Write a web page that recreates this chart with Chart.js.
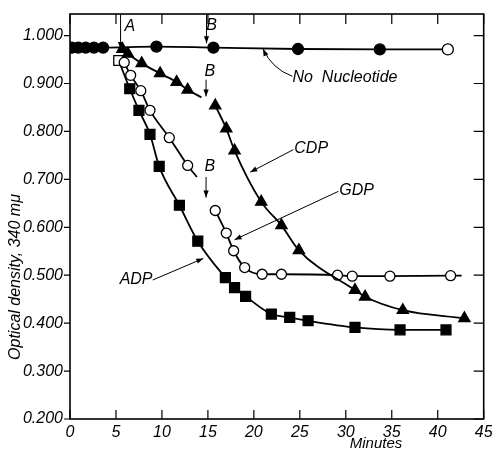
<!DOCTYPE html>
<html>
<head>
<meta charset="utf-8">
<script src="https://cdn.jsdelivr.net/npm/chart.js@4"></script>
<style>
  html, body { margin: 0; padding: 0; background: #fff; }
  #wrap { width: 492px; height: 451px; }
</style>
</head>
<body>
<div id="wrap"><canvas id="chart"></canvas></div>
<script>
// values (minutes / optical density)
const noneMin = [0.2, 0.9, 1.7, 2.6, 3.6, 9.4, 15.6, 24.8, 33.7, 41.1];
const noneOD  = [0.975, 0.975, 0.975, 0.975, 0.975, 0.977, 0.975, 0.972, 0.971, 0.971];

// the curve before each B arrow runs on a little past its last marker
const cdpMin = [5.7, 6.3, 7.8, 9.8, 11.6, 12.8, 14.3, 15.0, 15.8, 17.0, 17.9, 20.8, 23.0, 24.9, 31.0, 32.1, 36.2, 42.9];
const cdpOD  = [0.972, 0.962, 0.942, 0.921, 0.903, 0.887, 0.871, null, 0.854, 0.806, 0.760, 0.653, 0.604, 0.552, 0.469, 0.455, 0.427, 0.410];
const cdpLineEnd = [6];

const gdpMin = [5.9, 6.6, 7.7, 8.7, 10.8, 12.8, 13.8, 14.8, 15.8, 17.0, 17.8, 19.0, 20.9, 23.0, 29.1, 30.7, 34.8, 41.4, 42.6];
const gdpOD  = [0.944, 0.917, 0.885, 0.844, 0.787, 0.729, 0.705, null, 0.635, 0.588, 0.551, 0.516, 0.502, 0.502, 0.500, 0.498, 0.498, 0.499, 0.499];
const gdpLineEnd = [6, 18];

const adpMin = [5.3, 6.5, 7.5, 8.7, 9.7, 11.9, 13.9, 16.9, 17.9, 19.1, 21.9, 23.9, 25.9, 31.0, 35.9, 40.9];
const adpOD  = [0.948, 0.889, 0.844, 0.794, 0.727, 0.646, 0.571, 0.495, 0.474, 0.456, 0.419, 0.412, 0.405, 0.391, 0.386, 0.386];

const xTicks = [0, 5, 10, 15, 20, 25, 30, 35, 40, 45];
const yTicks = [0.2, 0.3, 0.4, 0.5, 0.6, 0.7, 0.8, 0.9, 1.0];

// labels and pointer arrows, in data units
const notes = [
  {text: 'A', x: 6.5, y: 1.019},
  {text: 'B', x: 15.4, y: 1.021},
  {text: 'B', x: 15.2, y: 0.925},
  {text: 'B', x: 15.2, y: 0.727},
  {text: 'No  Nucleotide', x: 24.2, y: 0.912, left: true},
  {text: 'CDP', x: 24.4, y: 0.764, left: true},
  {text: 'GDP', x: 29.3, y: 0.677, left: true},
  {text: 'ADP', x: 5.4, y: 0.490, left: true}
];
const arrows = [
  {from: [5.5, 1.044], to: [5.5, 0.972]},
  {from: [14.85, 1.044], to: [14.85, 0.984]},
  {from: [14.8, 0.908], to: [14.8, 0.873]},
  {from: [14.8, 0.705], to: [14.8, 0.662]},
  {from: [24.2, 0.915], to: [21.0, 0.972], bend: [22.0, 0.93]},
  {from: [24.3, 0.762], to: [19.6, 0.715]},
  {from: [29.2, 0.675], to: [17.9, 0.574]},
  {from: [9.0, 0.490], to: [14.5, 0.535]}
];

const FONT = '"Liberation Sans", Arial, sans-serif';

function pts(xs, ys) {
  return xs.map((x, i) => ({x: x, y: ys[i]}));
}

function radius(r, ends) {
  return c => ends.includes(c.dataIndex) ? 0 : r;
}

function head(ctx, x0, y0, x1, y1) {
  const a = Math.atan2(y1 - y0, x1 - x0);
  const L = 7, W = 2.6;
  ctx.beginPath();
  ctx.moveTo(x1, y1);
  ctx.lineTo(x1 - L * Math.cos(a) + W * Math.sin(a), y1 - L * Math.sin(a) - W * Math.cos(a));
  ctx.lineTo(x1 - L * Math.cos(a) - W * Math.sin(a), y1 - L * Math.sin(a) + W * Math.cos(a));
  ctx.closePath();
  ctx.fill();
}

const frame = {
  id: 'frame',
  beforeDatasetsDraw(chart) {
    const {ctx, chartArea: a, scales: {x, y}} = chart;
    ctx.save();
    ctx.strokeStyle = '#000';
    ctx.lineWidth = 1.6;
    ctx.strokeRect(a.left, a.top, a.right - a.left, a.bottom - a.top);
    ctx.lineWidth = 1.2;
    ctx.beginPath();
    xTicks.forEach(v => {
      const px = x.getPixelForValue(v);
      ctx.moveTo(px, a.bottom); ctx.lineTo(px, a.bottom - 9);
      ctx.moveTo(px, a.top); ctx.lineTo(px, a.top + 10);
    });
    yTicks.forEach(v => {
      const py = y.getPixelForValue(v);
      ctx.moveTo(a.left - 6, py); ctx.lineTo(a.left, py);
      ctx.moveTo(a.right, py); ctx.lineTo(a.right - 10, py);
    });
    ctx.stroke();
    ctx.restore();
  },
  afterDatasetsDraw(chart) {
    const {ctx, scales: {x, y}} = chart;
    ctx.save();
    ctx.strokeStyle = '#000';
    ctx.fillStyle = '#000';
    ctx.lineWidth = 1;
    arrows.forEach(ar => {
      const x0 = x.getPixelForValue(ar.from[0]), y0 = y.getPixelForValue(ar.from[1]);
      const x1 = x.getPixelForValue(ar.to[0]), y1 = y.getPixelForValue(ar.to[1]);
      ctx.beginPath();
      ctx.moveTo(x0, y0);
      if (ar.bend) {
        const bx = x.getPixelForValue(ar.bend[0]), by = y.getPixelForValue(ar.bend[1]);
        ctx.quadraticCurveTo(bx, by, x1, y1);
        ctx.stroke();
        head(ctx, bx, by, x1, y1);
      } else {
        ctx.lineTo(x1, y1);
        ctx.stroke();
        head(ctx, x0, y0, x1, y1);
      }
    });
    ctx.font = 'italic 16px ' + FONT;
    ctx.textBaseline = 'middle';
    notes.forEach(n => {
      ctx.textAlign = n.left ? 'left' : 'center';
      ctx.fillText(n.text, x.getPixelForValue(n.x), y.getPixelForValue(n.y));
    });
    // axis titles
    ctx.textAlign = 'center';
    ctx.font = 'italic 15px ' + FONT;
    ctx.fillText('Minutes', 376, 444);
    ctx.translate(16, 277);
    ctx.rotate(-Math.PI / 2);
    ctx.font = 'italic 16px ' + FONT;
    ctx.fillText('Optical density, 340 m\u03bc', 0, 0);
    ctx.restore();
  }
};

const base = {
  borderColor: '#000',
  borderWidth: 1.8,
  pointBorderColor: '#000',
  pointBorderWidth: 1.3,
  cubicInterpolationMode: 'monotone',
  spanGaps: false,
  fill: false
};

new Chart(document.getElementById('chart'), {
  type: 'line',
  data: {
    datasets: [
      Object.assign({}, base, {
        label: 'No Nucleotide',
        data: pts(noneMin, noneOD),
        pointStyle: 'circle',
        pointRadius: 5.5,
        pointBackgroundColor: noneMin.map((v, i) => i === noneMin.length - 1 ? '#fff' : '#000')
      }),
      Object.assign({}, base, {
        label: 'CDP',
        data: pts(cdpMin, cdpOD),
        pointStyle: 'triangle',
        pointRadius: radius(6.5, cdpLineEnd),
        pointBackgroundColor: '#000'
      }),
      Object.assign({}, base, {
        label: 'GDP',
        data: pts(gdpMin, gdpOD),
        pointStyle: 'circle',
        pointRadius: radius(5, gdpLineEnd),
        pointBackgroundColor: '#fff'
      }),
      Object.assign({}, base, {
        label: 'ADP',
        data: pts(adpMin, adpOD),
        pointStyle: 'rect',
        pointRadius: 7,
        pointBackgroundColor: adpMin.map((v, i) => i === 0 ? '#fff' : '#000')
      })
    ]
  },
  options: {
    responsive: true,
    maintainAspectRatio: false,
    animation: false,
    layout: { padding: { top: 14, right: 8, left: 0, bottom: 0 } },
    plugins: { legend: { display: false }, tooltip: { enabled: false } },
    scales: {
      x: {
        type: 'linear',
        min: 0,
        max: 45,
        grid: { display: false, drawTicks: false },
        border: { display: false },
        ticks: {
          stepSize: 5,
          padding: 4,
          color: '#000',
          font: { family: FONT, size: 16, style: 'italic' },
          maxRotation: 0,
          autoSkip: false
        },
        afterBuildTicks: s => { s.ticks = xTicks.map(v => ({value: v})); },
        afterFit: s => { s.height = 32; s.paddingLeft = 0; s.paddingRight = 0; }
      },
      y: {
        type: 'linear',
        min: 0.2,
        max: 1.045,
        grid: { display: false, drawTicks: false },
        border: { display: false },
        ticks: {
          padding: 7,
          color: '#000',
          font: { family: FONT, size: 16, style: 'italic' },
          callback: v => v.toFixed(3),
          autoSkip: false
        },
        afterBuildTicks: s => { s.ticks = yTicks.map(v => ({value: v})); },
        afterFit: s => { s.width = 70; s.paddingTop = 0; s.paddingBottom = 0; }
      }
    }
  },
  plugins: [frame]
});
</script>
</body>
</html>
